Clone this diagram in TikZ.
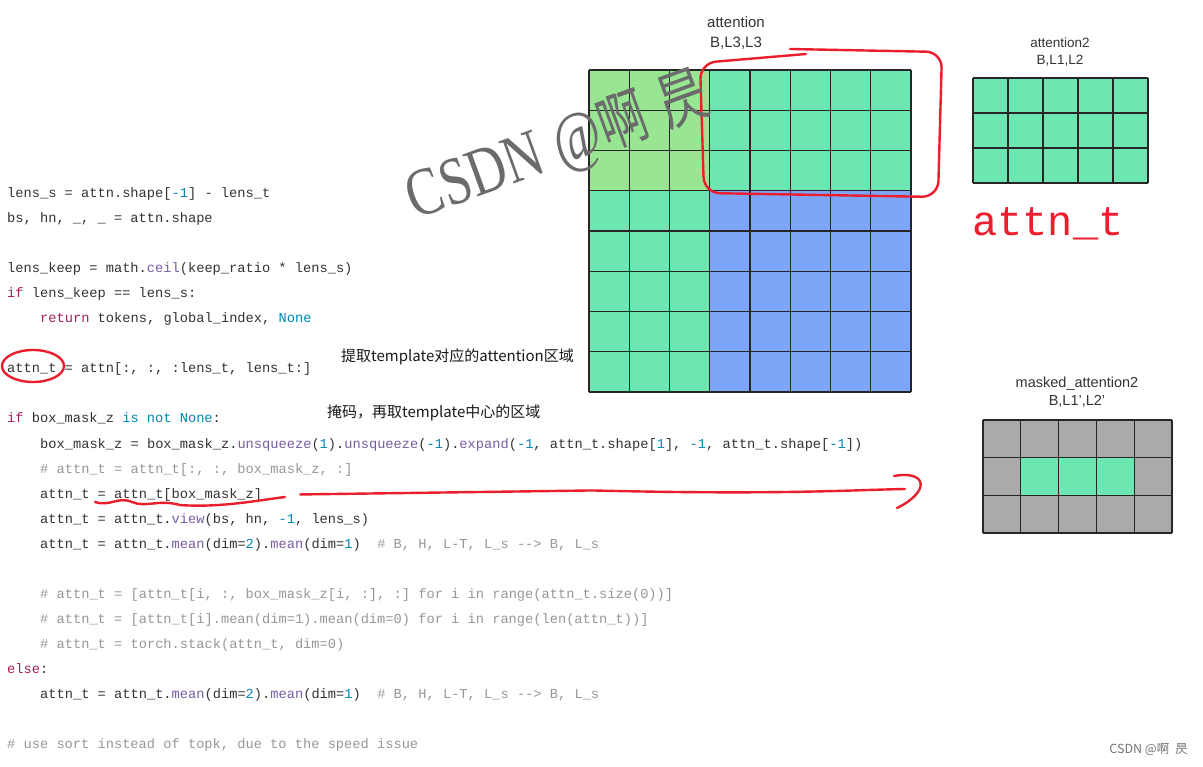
\documentclass[tikz,border=0pt]{standalone}
\usepackage{fontspec}
\setmainfont{Liberation Sans}
\setmonofont{Liberation Mono}
\newfontfamily\cjk{Noto Sans CJK SC}
\newfontfamily\wmserif{Liberation Serif}
\usepackage{tikz}
\usetikzlibrary{positioning,shapes,calc}
\definecolor{lgreen}{HTML}{98E691}
\definecolor{mint}{HTML}{6EE6B2}
\definecolor{bluecell}{HTML}{7EA6F8}
\definecolor{maskgray}{HTML}{AAAAAA}
\definecolor{penred}{HTML}{EB1E2D}
\definecolor{codegray}{HTML}{333333}
\definecolor{kwcol}{HTML}{A71D5D}
\definecolor{bicol}{HTML}{0086B3}
\definecolor{fncol}{HTML}{795DA3}
\definecolor{cmcol}{HTML}{969896}
\newcommand{\ckw}[1]{\textcolor{kwcol}{#1}}
\newcommand{\cbi}[1]{\textcolor{bicol}{#1}}
\newcommand{\cfn}[1]{\textcolor{fncol}{#1}}
\newcommand{\ccm}[1]{\textcolor{cmcol}{#1}}
\tikzstyle{codeline}=[anchor=base west, inner sep=0pt, text=codegray, font=\ttfamily\fontsize{13.7}{16}\selectfont]
\tikzstyle{note}=[anchor=west, inner sep=0pt, text=black!90, font=\cjk\fontsize{15}{17}\selectfont]
\tikzstyle{gridlabel}=[align=center, inner sep=0pt, text=black!80]
\tikzstyle{cellline}=[black!85, line width=1.1pt]
\tikzstyle{redpen}=[penred, line width=2.4pt, line cap=round, line join=round]

\begin{document}
\begin{tikzpicture}[x=1pt, y=-1pt]
        \useasboundingbox (0,0) rectangle (1203,767);
        \fill[white] (0,0) rectangle (1203,767);

        % Code
        \node (l1) [codeline] at (7,198) {lens\_s = attn.shape[\cbi{-1}] - lens\_t};
        \node (l2) [codeline] at (7,223) {bs, hn, \_, \_ = attn.shape};
        \node (l3) [codeline] at (7,273) {lens\_keep = math.\cfn{ceil}(keep\_ratio * lens\_s)};
        \node (l4) [codeline] at (7,298) {\ckw{if} lens\_keep == lens\_s:};
        \node (l5) [codeline] at (40,323) {\ckw{return} tokens, global\_index, \cbi{None}};
        \node (l6) [codeline] at (7,373) {attn\_t = attn[:, :, :lens\_t, lens\_t:]};
        \node (l7) [codeline] at (7,423) {\ckw{if} box\_mask\_z \cbi{is not None}:};
        \node (l8) [codeline] at (40,448) {box\_mask\_z = box\_mask\_z.\cfn{unsqueeze}(\cbi{1}).\cfn{unsqueeze}(\cbi{-1}).\cfn{expand}(\cbi{-1}, attn\_t.shape[\cbi{1}], \cbi{-1}, attn\_t.shape[\cbi{-1}])};
        \node (l9) [codeline] at (40,473) {\ccm{\# attn\_t = attn\_t[:, :, box\_mask\_z, :]}};
        \node (l10) [codeline] at (40,498) {attn\_t = attn\_t[box\_mask\_z]};
        \node (l11) [codeline] at (40,523) {attn\_t = attn\_t.\cfn{view}(bs, hn, \cbi{-1}, lens\_s)};
        \node (l12) [codeline] at (40,548) {attn\_t = attn\_t.\cfn{mean}(dim=\cbi{2}).\cfn{mean}(dim=\cbi{1})\ \ \ccm{\# B, H, L-T, L\_s -{}-{}> B, L\_s}};
        \node (l13) [codeline] at (40,598) {\ccm{\# attn\_t = [attn\_t[i, :, box\_mask\_z[i, :], :] for i in range(attn\_t.size(0))]}};
        \node (l14) [codeline] at (40,623) {\ccm{\# attn\_t = [attn\_t[i].mean(dim=1).mean(dim=0) for i in range(len(attn\_t))]}};
        \node (l15) [codeline] at (40,648) {\ccm{\# attn\_t = torch.stack(attn\_t, dim=0)}};
        \node (l16) [codeline] at (7,673) {\ckw{else}:};
        \node (l17) [codeline] at (40,698) {attn\_t = attn\_t.\cfn{mean}(dim=\cbi{2}).\cfn{mean}(dim=\cbi{1})\ \ \ccm{\# B, H, L-T, L\_s -{}-{}> B, L\_s}};
        \node (l18) [codeline] at (7,748) {\ccm{\# use sort instead of topk, due to the speed issue}};

        % Notes
        \node (note1) [note] at (341,357) {提取template对应的attention区域};
        \node (note2) [note] at (327,413) {掩码，再取template中心的区域};

        % attention B,L3,L3
        \fill[lgreen] (589,70) rectangle (709.75,190.75);
        \fill[mint] (709.75,70) rectangle (911,190.75);
        \fill[mint] (589,190.75) rectangle (709.75,392);
        \fill[bluecell] (709.75,190.75) rectangle (911,392);
        \foreach \i in {0,...,8} {
            \draw[cellline] ({589+\i*40.25},70) -- ({589+\i*40.25},392);
            \draw[cellline] (589,{70+\i*40.25}) -- (911,{70+\i*40.25});
        }
        \node (att-label) [gridlabel, font=\fontsize{15}{20}\selectfont] at (736,33) {attention\\B,L3,L3};

        % attention2 B,L1,L2
        \fill[mint] (973,78) rectangle (1148,183);
        \foreach \i in {0,...,5}
            \draw[cellline] ({973+\i*35},78) -- ({973+\i*35},183);
        \foreach \j in {0,...,3}
            \draw[cellline] (973,{78+\j*35}) -- (1148,{78+\j*35});
        \node (att2-label) [gridlabel, font=\fontsize{13.5}{17}\selectfont] at (1060,52) {attention2\\B,L1,L2};

        % masked_attention2
        \fill[maskgray] (983,420) rectangle (1172,533);
        \fill[mint] (1020.8,457.67) rectangle (1134.2,495.33);
        \foreach \i in {0,...,5}
            \draw[cellline] ({983+\i*37.8},420) -- ({983+\i*37.8},533);
        \foreach \j in {0,...,3}
            \draw[cellline] (983,{420+\j*37.67}) -- (1172,{420+\j*37.67});
        \node (mask-label) [gridlabel, font=\fontsize{14.5}{18}\selectfont] at (1077,392) {masked\_attention2\\B,L1',L2'};

        % Red pen marks
        \node (attn-t) [text=penred, inner sep=0pt, font=\ttfamily\fontsize{42}{42}\selectfont] at (1048,224) {attn\_t};
        \draw[redpen, rounded corners=16] (806,54) -- (700,63) -- (704,193) -- (938,197) -- (942,52) -- (790,49);
        \draw[redpen] (33,366) ellipse [x radius=31, y radius=16];
        \draw[redpen] (95,502) .. controls (110,507) and (118,496) .. (132,502)
            .. controls (146,508) and (158,499) .. (180,505)
            .. controls (220,508) and (260,500) .. (285,497);
        \coordinate (arrow-end) at (905,489);
        \draw[redpen] ([xshift=38pt]l10.east) -- ($(l10.east)+(330,-4)$) .. controls (780,495) and (850,490) .. (arrow-end);
        \draw[redpen] (894,476) .. controls (928,470) and (930,492) .. (897,508);

        % Watermark
        \node (wm) [text=black!58, rotate=20, xscale=0.78, inner sep=0pt] at (558,148) {{\wmserif\fontsize{68}{68}\selectfont CSDN @}{\cjk\fontsize{62}{62}\selectfont 啊\hspace{20pt}昃}};
        \node (wm-small) [text=black!55, anchor=east, inner sep=0pt, font=\cjk\fontsize{12.5}{14}\selectfont] at (1188,750) {CSDN @啊\hspace{6pt}昃};
\end{tikzpicture}
\end{document}
